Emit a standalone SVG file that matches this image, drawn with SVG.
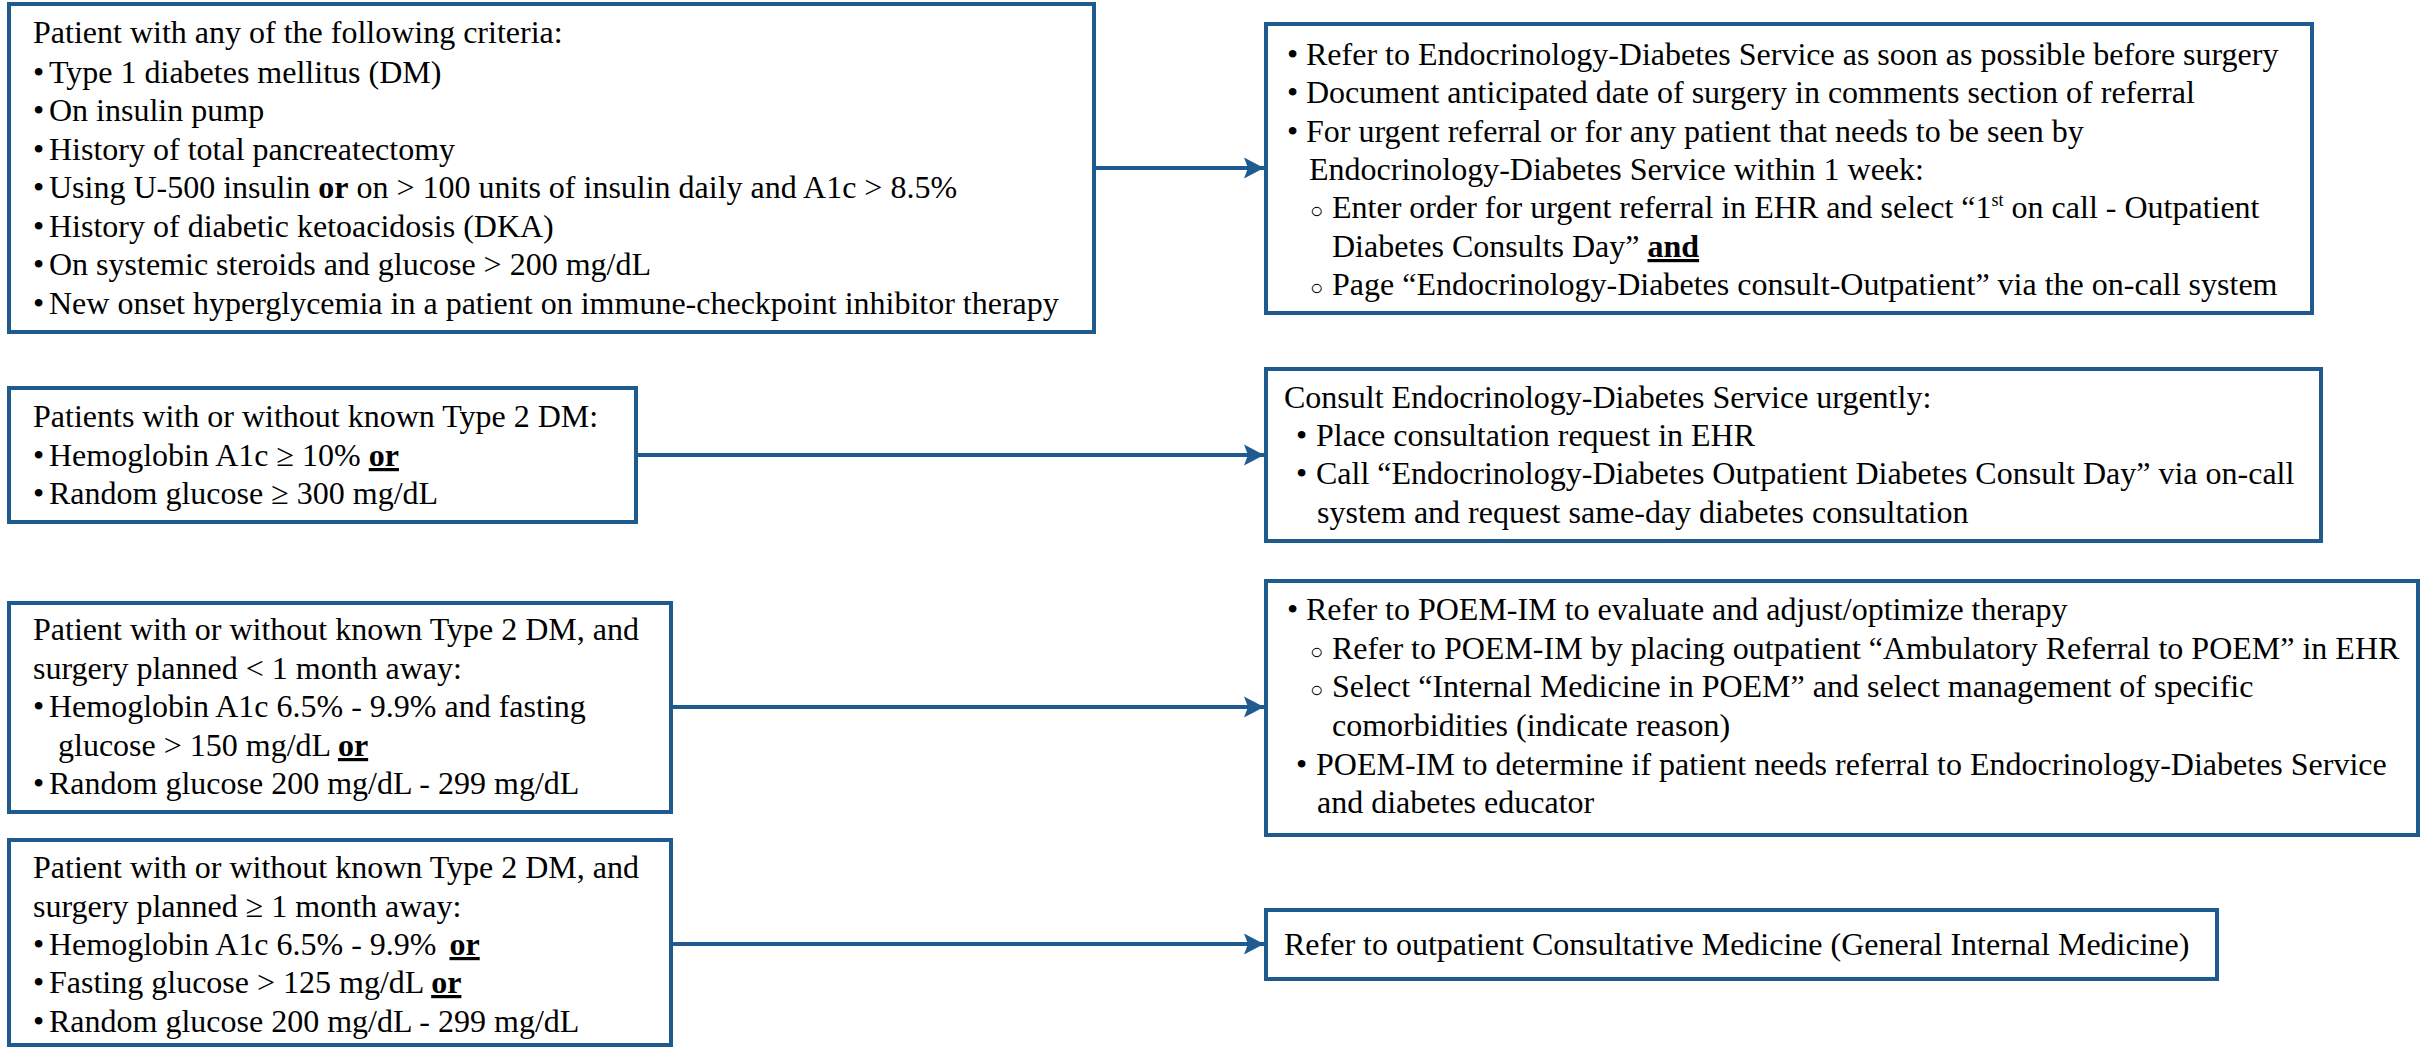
<svg xmlns="http://www.w3.org/2000/svg" width="2427" height="1047" viewBox="0 0 2427 1047">
<style>
  .box { fill: #ffffff; stroke: #1f5b8e; stroke-width: 4; }
  .conn { stroke: #1f5b8e; stroke-width: 4; fill: none; }
  text { font-family: "Liberation Serif", "Times New Roman", serif; font-size: 32px; fill: #000000; }
  .b { font-weight: bold; }
  .u { font-weight: bold; text-decoration: underline; }
  .sub { font-size: 18px; }
  .sm { font-size: 22px; }
</style>
<defs>
  <marker id="arr" markerUnits="userSpaceOnUse" markerWidth="24" markerHeight="24" viewBox="-22 -12 24 24" refX="0" refY="0" orient="auto">
    <path d="M0,0 L-20,-10.5 L-16,0 L-20,10.5 Z" fill="#1f5b8e"/>
  </marker>
</defs>

<g id="connectors">
  <line class="conn" x1="1094" y1="168" x2="1264" y2="168" marker-end="url(#arr)"/>
  <line class="conn" x1="636" y1="455" x2="1264" y2="455" marker-end="url(#arr)"/>
  <line class="conn" x1="671" y1="707" x2="1264" y2="707" marker-end="url(#arr)"/>
  <line class="conn" x1="671" y1="944" x2="1264" y2="944" marker-end="url(#arr)"/>
</g>

<g id="node-criteria-1">
  <rect class="box" x="9" y="4" width="1085" height="328"/>
  <text x="33" y="43">Patient with any of the following criteria:</text>
  <text x="33" y="83">•</text><text x="49" y="83">Type 1 diabetes mellitus (DM)</text>
  <text x="33" y="121">•</text><text x="49" y="121">On insulin pump</text>
  <text x="33" y="160">•</text><text x="49" y="160">History of total pancreatectomy</text>
  <text x="33" y="198">•</text><text x="49" y="198">Using U-500 insulin <tspan class="b">or</tspan> on &gt; 100 units of insulin daily and A1c &gt; 8.5%</text>
  <text x="33" y="237">•</text><text x="49" y="237">History of diabetic ketoacidosis (DKA)</text>
  <text x="33" y="275">•</text><text x="49" y="275">On systemic steroids and glucose &gt; 200 mg/dL</text>
  <text x="33" y="314">•</text><text x="49" y="314">New onset hyperglycemia in a patient on immune-checkpoint inhibitor therapy</text>
</g>

<g id="node-action-1">
  <rect class="box" x="1266" y="24" width="1046" height="289"/>
  <text x="1287" y="65">•</text><text x="1306" y="65">Refer to Endocrinology-Diabetes Service as soon as possible before surgery</text>
  <text x="1287" y="103">•</text><text x="1306" y="103">Document anticipated date of surgery in comments section of referral</text>
  <text x="1287" y="142">•</text><text x="1306" y="142">For urgent referral or for any patient that needs to be seen by</text>
  <text x="1309" y="180">Endocrinology-Diabetes Service within 1 week:</text>
  <text x="1310" y="218" class="sm">○</text><text x="1332" y="218">Enter order for urgent referral in EHR and select “1<tspan class="sub" dy="-12">st</tspan><tspan dy="12"> on call - Outpatient</tspan></text>
  <text x="1332" y="257">Diabetes Consults Day” <tspan class="u">and</tspan></text>
  <text x="1310" y="295" class="sm">○</text><text x="1332" y="295">Page “Endocrinology-Diabetes consult-Outpatient” via the on-call system</text>
</g>

<g id="node-criteria-2">
  <rect class="box" x="9" y="388" width="627" height="134"/>
  <text x="33" y="427">Patients with or without known Type 2 DM:</text>
  <text x="33" y="466">•</text><text x="49" y="466">Hemoglobin A1c ≥ 10% <tspan class="u">or</tspan></text>
  <text x="33" y="504">•</text><text x="49" y="504">Random glucose ≥ 300 mg/dL</text>
</g>

<g id="node-action-2">
  <rect class="box" x="1266" y="369" width="1055" height="172"/>
  <text x="1284" y="408">Consult Endocrinology-Diabetes Service urgently:</text>
  <text x="1296" y="446">•</text><text x="1316" y="446">Place consultation request in EHR</text>
  <text x="1296" y="484">•</text><text x="1316" y="484">Call “Endocrinology-Diabetes Outpatient Diabetes Consult Day” via on-call</text>
  <text x="1317" y="523">system and request same-day diabetes consultation</text>
</g>

<g id="node-criteria-3">
  <rect class="box" x="9" y="603" width="662" height="209"/>
  <text x="33" y="640">Patient with or without known Type 2 DM, and</text>
  <text x="33" y="679">surgery planned &lt; 1 month away:</text>
  <text x="33" y="717">•</text><text x="49" y="717">Hemoglobin A1c 6.5% - 9.9% and fasting</text>
  <text x="58" y="756">glucose &gt; 150 mg/dL <tspan class="u">or</tspan></text>
  <text x="33" y="794">•</text><text x="49" y="794">Random glucose 200 mg/dL - 299 mg/dL</text>
</g>

<g id="node-action-3">
  <rect class="box" x="1266" y="581" width="1152" height="254"/>
  <text x="1287" y="620">•</text><text x="1306" y="620">Refer to POEM-IM to evaluate and adjust/optimize therapy</text>
  <text x="1310" y="659" class="sm">○</text><text x="1332" y="659">Refer to POEM-IM by placing outpatient “Ambulatory Referral to POEM” in EHR</text>
  <text x="1310" y="697" class="sm">○</text><text x="1332" y="697">Select “Internal Medicine in POEM” and select management of specific</text>
  <text x="1332" y="736">comorbidities (indicate reason)</text>
  <text x="1296" y="775">•</text><text x="1316" y="775">POEM-IM to determine if patient needs referral to Endocrinology-Diabetes Service</text>
  <text x="1317" y="813">and diabetes educator</text>
</g>

<g id="node-criteria-4">
  <rect class="box" x="9" y="840" width="662" height="205"/>
  <text x="33" y="878">Patient with or without known Type 2 DM, and</text>
  <text x="33" y="917">surgery planned ≥ 1 month away:</text>
  <text x="33" y="955">•</text><text x="49" y="955">Hemoglobin A1c 6.5% - 9.9% <tspan class="u" dx="5">or</tspan></text>
  <text x="33" y="993">•</text><text x="49" y="993">Fasting glucose &gt; 125 mg/dL <tspan class="u">or</tspan></text>
  <text x="33" y="1032">•</text><text x="49" y="1032">Random glucose 200 mg/dL - 299 mg/dL</text>
</g>

<g id="node-action-4">
  <rect class="box" x="1266" y="910" width="951" height="69"/>
  <text x="1284" y="955">Refer to outpatient Consultative Medicine (General Internal Medicine)</text>
</g>
</svg>
